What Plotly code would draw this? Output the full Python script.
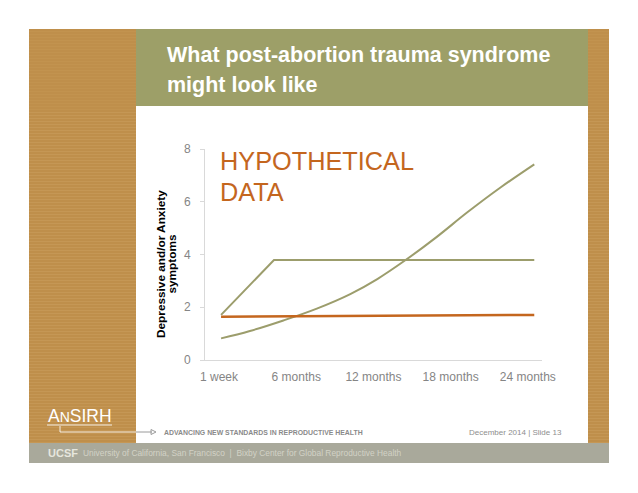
import plotly.graph_objects as go

# ---------------- data ----------------
tick_months = [0, 6, 12, 18, 24]
tick_labels = ["1 week", "6 months", "12 months", "18 months", "24 months"]

curve_x = [0.16, 2.4, 5.0, 7.6, 10.2, 12.3, 14.5, 16.9, 19.3, 21.9, 24.5]
curve_y = [0.82, 1.10, 1.50, 1.95, 2.50, 3.07, 3.79, 4.66, 5.60, 6.55, 7.42]

step_x = [0.16, 4.27, 24.5]
step_y = [1.71, 3.79, 3.79]

flat_x = [0.16, 24.5]
flat_y = [1.64, 1.71]

title_lines = ["What post-abortion trauma syndrome", "might look like"]
stamp_lines = ["HYPOTHETICAL", "DATA"]
y_title_lines = ["Depressive and/or Anxiety", "symptoms"]

# ---------------- layout helpers ----------------
OFF = 8  # page body margin
W, H = 638 - OFF, 493 - OFF
L, R, T, B = 205 - OFF, 96, 149 - OFF, 133
PW, PH = W - L - R, H - T - B


def fx(p):
    return (p - OFF - L) / PW


def fy(p):
    return (H - B - (p - OFF)) / PH


GREEN_LINE = "#9C9D6C"
ORANGE = "#C4661E"
TAN = "#BF8F4B"
TITLE_GREEN = "#9D9F68"
FOOT_GRAY = "#A9A99B"

fig = go.Figure()

fig.add_trace(go.Scatter(x=curve_x, y=curve_y, mode="lines", line=dict(color=GREEN_LINE, width=2, shape="spline", smoothing=1.1),
                         hoverinfo="skip", showlegend=False))
fig.add_trace(go.Scatter(x=step_x, y=step_y, mode="lines", line=dict(color=GREEN_LINE, width=2),
                         hoverinfo="skip", showlegend=False))
fig.add_trace(go.Scatter(x=flat_x, y=flat_y, mode="lines", line=dict(color=ORANGE, width=2.5),
                         hoverinfo="skip", showlegend=False))

shapes = []


def rect(x0, y0, x1, y1, color):
    shapes.append(dict(type="rect", xref="paper", yref="paper", x0=fx(x0), x1=fx(x1), y0=fy(y1), y1=fy(y0),
                       fillcolor=color, line=dict(width=0), layer="below"))


def seg(x0, y0, x1, y1, color, w=1):
    shapes.append(dict(type="line", xref="paper", yref="paper", x0=fx(x0), x1=fx(x1), y0=fy(y0), y1=fy(y1),
                       line=dict(color=color, width=w), layer="below"))


# slide frame
rect(29, 29, 136, 443, TAN)
rect(588, 29, 609, 443, TAN)
rect(136, 29, 588, 106, TITLE_GREEN)
rect(29, 443, 609, 463, FOOT_GRAY)
yy = 31.5
while yy < 443:
    col = "rgba(212,172,108,0.30)" if yy > 110 else "rgba(212,172,108,0.15)"
    seg(29, yy, 136, yy, col, 1)
    seg(588, yy, 609, yy, col, 1)
    yy += 3

# logo bracket + arrow
seg(47, 425, 112, 425, "rgba(255,255,255,0.85)", 1)
seg(60, 426, 60, 432, "rgba(255,255,255,0.85)", 1)
seg(60, 432, 136, 432, "rgba(255,255,255,0.85)", 1)
seg(136, 432, 152, 432, "#9A9A9A", 1)
shapes.append(dict(type="path", xref="paper", yref="paper",
                   path=f"M {fx(151)},{fy(429.5)} L {fx(156)},{fy(432)} L {fx(151)},{fy(434.5)} Z",
                   line=dict(color="#9A9A9A", width=1), fillcolor="rgba(0,0,0,0)", layer="below"))

annotations = []


def text(s, x, y, size, color, xanchor="left", yanchor="middle", bold=False, family="Liberation Sans, Arial, sans-serif", angle=0):
    annotations.append(dict(text=f"<b>{s}</b>" if bold else s, xref="paper", yref="paper", x=fx(x), y=fy(y),
                            xanchor=xanchor, yanchor=yanchor, showarrow=False, textangle=angle,
                            font=dict(size=size, color=color, family=family)))


text(title_lines[0], 165, 55, 21.5, "white", bold=True)
text(title_lines[1], 165, 85, 21.5, "white", bold=True)
text(stamp_lines[0], 218, 161, 25.3, ORANGE)
text(stamp_lines[1], 218, 192, 25.3, ORANGE)
text(y_title_lines[0], 161, 264, 11.8, "black", xanchor="center", bold=True, angle=-90)
text(y_title_lines[1], 171.5, 264, 11.8, "black", xanchor="center", bold=True, angle=-90)

text("A<span style='font-size:14px'>N</span>SIRH", 46, 416, 17.5, "white")
text("ADVANCING NEW STANDARDS IN REPRODUCTIVE HEALTH", 162, 432, 6.9, "#8A8A8A", bold=True,
     family="Liberation Sans Narrow, Arial Narrow, Liberation Sans, sans-serif")
text("December 2014 | Slide 13", 564, 432, 8, "#8E8E8E", xanchor="right")
text("UCSF", 46, 453, 11, "#E6E6DE", bold=True, family="Liberation Sans Narrow, Liberation Sans, sans-serif")
text("University of California, San Francisco  |  Bixby Center for Global Reproductive Health", 81, 453, 8.4, "#D2D2C6")

fig.update_layout(
    width=W, height=H,
    margin=dict(l=L, r=R, t=T, b=B, pad=0),
    paper_bgcolor="white", plot_bgcolor="rgba(0,0,0,0)",
    shapes=shapes, annotations=annotations,
    font=dict(family="Liberation Sans, Arial, sans-serif"),
    xaxis=dict(range=[-1.09, 25.1], tickmode="array", tickvals=tick_months, ticktext=tick_labels,
               showline=True, linecolor="#D9D9D9", linewidth=1, showgrid=False, zeroline=False,
               ticks="", tickfont=dict(size=12, color="#858585"), ticklabelstandoff=6, fixedrange=True),
    yaxis=dict(range=[0, 8], tickvals=[0, 2, 4, 6, 8], showline=True, linecolor="#D9D9D9", linewidth=1,
               showgrid=False, zeroline=False, ticks="outside", ticklen=4, tickcolor="#D9D9D9",
               tickfont=dict(size=12, color="#858585"), ticklabelstandoff=7, fixedrange=True),
)

fig.write_html("out.html", config={"displayModeBar": False})
